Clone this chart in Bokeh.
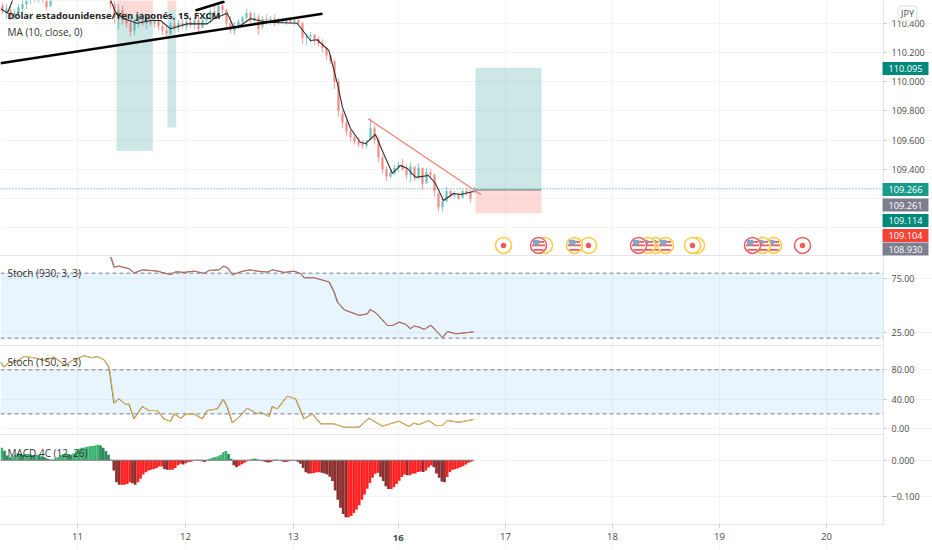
from bokeh.plotting import figure
from bokeh.layouts import column
from bokeh.models import Range1d, FixedTicker, Label, BoxAnnotation, NumeralTickFormatter
from bokeh.embed import file_html
from bokeh.resources import INLINE

FONT = "Open Sans"
TICKS = [231, 555, 878, 1193, 1515, 1836, 2157, 2478]
TICK_LABELS = ["11", "12", "13", "16", "17", "18", "19", "20"]
X_SCALE_START = 2649
X_END = 2796

high = [110.54,110.53,110.52,110.50,110.53,110.56,110.60,110.61,110.62,110.61,110.62,110.57,110.59,110.62,110.63,110.64,110.63,110.64,110.65,110.66,110.65,110.66,110.67,110.66,110.65,110.64,110.63,110.60,110.57,110.53,110.52,110.47,110.43,110.43,110.45,110.47,110.45,110.46,110.44,110.45,110.40,110.39,110.41,110.42,110.42,110.43,110.43,110.44,110.44,110.45,110.44,110.46,110.50,110.52,110.54,110.55,110.50,110.45,110.41,110.43,110.45,110.50,110.48,110.47,110.46,110.45,110.46,110.45,110.46,110.44,110.44,110.44,110.43,110.43,110.43,110.41,110.33,110.34,110.33,110.31,110.29,110.24,110.19,110.15,110.02,109.80,109.74,109.67,109.64,109.62,109.60,109.60,109.75,109.70,109.62,109.50,109.42,109.40,109.43,109.45,109.47,109.43,109.45,109.41,109.44,109.41,109.41,109.40,109.37,109.24,109.20,109.28,109.26,109.25,109.24,109.26,109.27,109.26,109.28]
low = [110.46,110.43,110.42,110.42,110.45,110.47,110.50,110.53,110.55,110.54,110.54,110.49,110.51,110.56,110.57,110.57,110.58,110.57,110.58,110.59,110.58,110.58,110.59,110.58,110.57,110.57,110.56,110.50,110.40,110.36,110.39,110.37,110.31,110.32,110.37,110.38,110.36,110.38,110.37,110.35,110.32,110.30,110.32,110.35,110.34,110.36,110.35,110.37,110.36,110.34,110.37,110.39,110.40,110.43,110.44,110.46,110.37,110.33,110.32,110.36,110.38,110.41,110.40,110.40,110.32,110.36,110.39,110.39,110.38,110.39,110.40,110.39,110.40,110.39,110.39,110.26,110.25,110.27,110.25,110.24,110.20,110.15,110.12,109.95,109.76,109.68,109.63,109.59,109.57,109.55,109.54,109.54,109.60,109.57,109.45,109.37,109.32,109.34,109.36,109.38,109.39,109.33,109.31,109.32,109.33,109.26,109.31,109.34,109.21,109.11,109.11,109.17,109.20,109.20,109.19,109.21,109.22,109.17,109.24]
open_ = [110.52,110.47,110.49,110.45,110.47,110.50,110.53,110.57,110.59,110.57,110.59,110.56,110.52,110.57,110.60,110.58,110.61,110.59,110.62,110.60,110.63,110.60,110.63,110.61,110.64,110.60,110.62,110.59,110.53,110.44,110.49,110.42,110.40,110.35,110.41,110.43,110.40,110.42,110.40,110.42,110.38,110.35,110.33,110.39,110.37,110.40,110.38,110.41,110.39,110.42,110.37,110.42,110.44,110.48,110.46,110.52,110.49,110.40,110.35,110.38,110.41,110.44,110.47,110.42,110.44,110.38,110.43,110.41,110.43,110.40,110.42,110.41,110.43,110.41,110.42,110.40,110.30,110.31,110.32,110.29,110.26,110.23,110.18,110.14,110.00,109.78,109.72,109.66,109.62,109.59,109.57,109.56,109.60,109.68,109.60,109.48,109.40,109.35,109.38,109.41,109.43,109.40,109.36,109.42,109.35,109.41,109.30,109.38,109.36,109.23,109.14,109.18,109.25,109.22,109.23,109.20,109.25,109.24,109.24]
close = [110.48,110.50,110.45,110.47,110.51,110.53,110.57,110.59,110.57,110.59,110.56,110.51,110.56,110.60,110.58,110.61,110.59,110.62,110.60,110.63,110.60,110.63,110.61,110.64,110.60,110.62,110.59,110.53,110.44,110.49,110.42,110.40,110.34,110.41,110.43,110.40,110.42,110.40,110.42,110.38,110.35,110.33,110.39,110.37,110.40,110.38,110.41,110.39,110.42,110.36,110.42,110.44,110.48,110.46,110.52,110.49,110.40,110.35,110.38,110.41,110.44,110.47,110.42,110.44,110.36,110.43,110.41,110.43,110.40,110.42,110.41,110.43,110.41,110.42,110.40,110.30,110.31,110.32,110.29,110.26,110.23,110.18,110.14,110.00,109.80,109.72,109.66,109.62,109.59,109.57,109.56,109.58,109.68,109.60,109.48,109.40,109.35,109.38,109.41,109.43,109.40,109.36,109.42,109.35,109.41,109.30,109.38,109.36,109.25,109.14,109.18,109.25,109.22,109.23,109.20,109.25,109.24,109.20,109.266]

ma_t = [0,21,40,100,200,300,330,345,370,410,450,480,510,560,620,640,680,700,715,750,800,890,930,950,985,1012,1026,1050,1080,1095,1125,1149,1176,1200,1221,1245,1284,1305,1329,1359,1380,1419]
ma_v = [110.50,110.47,110.58,110.61,110.62,110.60,110.56,110.476,110.431,110.40,110.419,110.419,110.362,110.396,110.396,110.431,110.469,110.373,110.378,110.431,110.407,110.40,110.282,110.287,110.214,109.974,109.823,109.679,109.583,109.576,109.638,109.508,109.371,109.426,109.405,109.344,109.357,109.302,109.186,109.234,109.227,109.248]

trend_black_t = [[0, 966], [585, 672]]
trend_black_v = [[110.126, 110.465], [110.488, 110.549]]
trend_red_t = [1103, 1442]
trend_red_v = [109.746, 109.225]

pos_left = [348, 501, 1425]
pos_right = [457, 527, 1623]
pos_target = [109.524, 109.686, 110.095]
pos_entry = [110.46, 110.494, 109.258]
pos_stop = [110.7, 110.7, 109.099]

event_t = [1509, 1632, 1614, 1764, 1722, 1965, 1941, 1914, 1995, 2088, 2076, 2319, 2286, 2256, 2406]
event_color = ["#ffc93c", "#ffc93c", "#f05a5a", "#ffc93c", "#ffc93c", "#ffc93c", "#ffc93c", "#f05a5a", "#ffc93c", "#ffc93c", "#ffc93c", "#ffc93c", "#ffc93c", "#f05a5a", "#f05a5a"]
event_flag = [False, False, True, False, True, True, True, True, True, False, False, True, True, True, False]
event_price = 108.878

stoch1_t = [330,340,355,385,400,425,470,490,510,525,550,580,610,625,655,668,680,695,720,745,770,800,815,850,880,900,910,940,985,1000,1010,1030,1075,1100,1108,1125,1160,1175,1195,1215,1228,1240,1255,1270,1290,1305,1325,1340,1365,1395,1418]
stoch1_v = [94.8,85.6,86.5,84.1,80.1,83.1,81.9,80.1,78.8,81.3,80.7,81.9,79.8,82.5,83.1,86.5,85,78.5,81.3,83.1,81.9,81,83.1,80.7,81.9,79.5,75.8,75.8,71.8,62.5,53.3,46.2,41,42.5,46.5,43.4,31.7,31.7,34.8,32.7,28.7,31.1,30.2,28,32,27.1,20.4,26.2,24,25,25.9]

stoch2_t = [0,10,25,45,70,100,130,160,195,215,250,275,290,310,325,332,340,355,375,385,400,425,445,470,490,510,520,540,555,580,605,620,650,668,680,695,715,740,770,780,805,815,830,860,885,910,935,960,1000,1030,1075,1105,1145,1195,1225,1240,1255,1285,1305,1325,1340,1375,1418]
stoch2_v = [90.5,83.7,90.5,90.5,98.2,96.4,92.8,97.3,85.9,92.8,99.1,96.4,98.2,93.7,83.7,60.9,34.6,40.5,32.7,33.6,13.2,30,24.5,24.5,13.2,10,20,14.1,19.1,20,13.2,24.5,26.8,40,29.1,7.7,15.5,27.7,20,22.3,16.4,30,26.8,44.1,40.5,13.2,20,6.4,6.4,1.8,1.8,14.1,3.2,10,2.7,7.3,5.4,10.9,4.1,4.1,10.9,8.6,12.3]

macd = [.034,.026,.013,.008,.010,.015,.019,.017,.015,.017,.017,.015,.014,.015,.014,.010,.008,.005,.002,.001,.005,.008,.014,.017,.019,.017,.015,.019,.026,.031,.034,.035,.037,.038,.039,.040,.042,.040,.034,.025,.015,.001,
-.028,-.060,-.067,-.067,-.067,-.065,-.060,-.063,-.067,-.060,-.051,-.039,-.033,-.028,-.026,-.024,-.021,-.017,-.017,-.024,-.026,-.026,-.026,-.021,-.014,-.010,-.012,-.008,-.005,-.004,-.001,.001,.001,-.003,-.005,.001,
.004,.007,.009,.011,.014,.022,.025,.017,.004,-.014,-.019,-.015,-.011,-.007,-.003,.001,.004,.005,.002,-.001,-.003,-.005,-.006,-.005,.001,.002,0,-.003,-.005,-.004,-.002,-.001,-.001,-.004,-.010,
-.021,-.033,-.036,-.036,-.035,-.033,-.033,-.034,-.036,-.039,-.045,-.057,-.083,-.108,-.130,-.147,-.156,-.156,-.152,-.144,-.135,-.123,-.108,-.094,-.078,-.062,-.048,-.037,-.034,-.045,-.057,-.071,-.079,-.079,-.074,-.065,-.056,-.046,-.039,-.041,-.041,-.037,-.036,-.032,-.031,-.032,-.028,-.020,-.014,-.019,-.036,-.048,-.058,-.060,-.046,-.032,-.026,-.025,-.022,-.019,-.016,-.012,-.007,-.004,-.001]

price_ticks = [110.4, 110.2, 110.0, 109.8, 109.6, 109.4, 109.2, 109.0]
price_tick_hidden = {109.2: "", 109.0: ""}
tag_text = ["110.095", "109.266", "109.261", "109.114", "109.104", "108.930"]
tag_color = ["#00897b", "#1a9a8a", "#7d7f8f", "#00897b", "#f44336", "#7d7f8f"]
tag_center = [68, 189, 204.5, 220, 235, 248.5]

GRID = "#f3f3f3"
AXIS = "#e2e4ea"
TEXT = "#4a4a4a"


def pane(height, lo, hi, ticks, fmt, base=None, bottom_axis=False):
    base = lo if base is None else base
    p = figure(width=932, height=height, x_range=Range1d(0, X_END), y_range=Range1d(lo, hi),
               y_axis_location="right", x_axis_location="below", output_backend="svg", toolbar_location=None,
               min_border=0, outline_line_color=None, background_fill_color="white", border_fill_color="white")
    p.xaxis.ticker = FixedTicker(ticks=TICKS)
    p.xgrid.ticker = FixedTicker(ticks=TICKS)
    p.xgrid.bounds = (base, hi)
    p.ygrid.ticker = FixedTicker(ticks=ticks)
    p.ygrid.bounds = (0, X_SCALE_START)
    p.yaxis.ticker = FixedTicker(ticks=ticks)
    p.xgrid.grid_line_color = GRID
    p.ygrid.grid_line_color = GRID
    p.yaxis.fixed_location = X_SCALE_START
    p.yaxis.bounds = (base, hi)
    p.yaxis.formatter = NumeralTickFormatter(format=fmt)
    p.yaxis.axis_line_color = AXIS
    p.yaxis.major_tick_line_color = "#c8cad0"
    p.yaxis.major_tick_in = 0
    p.yaxis.major_tick_out = 3
    p.yaxis.minor_tick_line_color = None
    p.yaxis.major_label_text_font = FONT
    p.yaxis.major_label_text_font_size = "9px"
    p.yaxis.major_label_text_color = TEXT
    p.yaxis.major_label_standoff = 5
    if bottom_axis:
        p.xaxis.fixed_location = base
        p.xaxis.bounds = (0, X_SCALE_START)
        p.xaxis.axis_line_color = AXIS
        p.xaxis.major_tick_line_color = "#c8cad0"
        p.xaxis.major_tick_in = 0
        p.xaxis.major_tick_out = 3
        p.xaxis.minor_tick_line_color = None
        p.xaxis.major_label_text_font = FONT
        p.xaxis.major_label_text_font_size = "9.5px"
        p.xaxis.major_label_text_color = TEXT
        p.xaxis.major_label_standoff = 5
    else:
        p.xaxis.visible = False
        p.line([0, X_SCALE_START], [base, base], line_color=AXIS, line_width=3)
    return p


def title(p, text, sx, sy, bold=False, color="#333333", size="10px"):
    p.add_layout(Label(x=sx, y=sy, x_units="screen", y_units="screen", text=text,
                       text_font=FONT, text_font_size=size, text_color=color,
                       text_font_style="bold" if bold else "normal", text_baseline="middle"))


def band(p):
    p.add_layout(BoxAnnotation(left=0, right=X_SCALE_START, bottom=20, top=80, fill_color="#2196f3",
                               fill_alpha=0.1, line_alpha=0, level="underlay"))
    for lv in (80, 20):
        p.line([0, X_SCALE_START], [lv, lv], line_color="#787b86", line_width=1, line_dash="4 3")


# ---- price pane
H1 = 256
p1 = pane(H1, 108.802, 110.556, price_ticks, "0.000")
p1.yaxis.major_label_overrides = price_tick_hidden
for i in range(len(pos_left)):
    p1.quad(left=pos_left[i], right=pos_right[i], bottom=min(pos_target[i], pos_entry[i]),
            top=max(pos_target[i], pos_entry[i]), fill_color="#00897b", fill_alpha=0.2, line_color=None)
    p1.quad(left=pos_left[i], right=pos_right[i], bottom=min(pos_stop[i], pos_entry[i]),
            top=max(pos_stop[i], pos_entry[i]), fill_color="#f44336", fill_alpha=0.2, line_color=None)
p1.line([pos_left[2], pos_right[2]], [pos_entry[2], pos_entry[2]], line_color="#9a9a9a", line_width=1.5)
p1.line([0, X_SCALE_START], [109.266, 109.266], line_color="#26a69a", line_width=1, line_dash="1 2")

candle_t = [6 + 12 * i for i in range(len(close))]
colors = ["#26a69a" if c >= o else "#ef5350" for o, c in zip(open_, close)]
p1.segment(candle_t, low, candle_t, high, line_color=colors, line_alpha=0.5, line_width=1.2)
p1.vbar(x=candle_t, top=[max(o, c) for o, c in zip(open_, close)], bottom=[min(o, c) for o, c in zip(open_, close)],
        width=9, fill_color=colors, fill_alpha=0.38, line_color=None)
p1.line(ma_t, ma_v, line_color="#2a2a2a", line_width=1.05)
p1.multi_line(trend_black_t, trend_black_v, line_color="black", line_width=2.6)
p1.line(trend_red_t, trend_red_v, line_color="#f77c72", line_width=1.2)

PX_T, PX_P = 3.0, 0.00685
for t, col, flag in zip(event_t, event_color, event_flag):
    p1.scatter([t], [event_price], size=16, marker="circle", fill_color="white", line_color=col, line_width=1.5)
    if flag:
        p1.rect([t], [event_price - 4.5 * PX_P], width=10, height=1.8, width_units="screen", height_units="screen",
                fill_color="#f05a5a", line_color=None)
        p1.rect([t], [event_price], width=13, height=1.8, width_units="screen", height_units="screen",
                fill_color="#f05a5a", line_color=None)
        p1.rect([t + 3 * PX_T], [event_price + 3.5 * PX_P], width=5, height=1.8, width_units="screen", height_units="screen",
                fill_color="#f05a5a", line_color=None)
        p1.rect([t - 2.5 * PX_T], [event_price + 3 * PX_P], width=6.5, height=5.5, width_units="screen", height_units="screen",
                fill_color="#7fa8c9", line_color=None)
    else:
        p1.scatter([t], [event_price], size=5.5, marker="circle", fill_color="#f05a5a", line_color=None)

title(p1, "Dólar estadounidense/Yen japonés, 15, FXCM", 7, H1 - 15, bold=True, color="#222222", size="9.5px")
title(p1, "MA (10, close, 0)", 7, H1 - 31)
for txt, col, cy in zip(tag_text, tag_color, tag_center):
    p1.add_layout(Label(x=905, y=H1 - cy, x_units="screen", y_units="screen", text=txt,
                        text_font=FONT, text_font_size="9.2px", text_color="white",
                        text_align="center", text_baseline="middle",
                        background_fill_color=col, padding=(6, 3)))
p1.add_layout(Label(x=907, y=H1 - 13, x_units="screen", y_units="screen", text="JPY",
                    text_font=FONT, text_font_size="9px", text_color=TEXT,
                    text_align="center", text_baseline="middle", background_fill_color="white",
                    border_line_color="#dddddd", border_radius=3, padding=(3, 1)))

# ---- stochastic 930
H2 = 90
p2 = pane(H2, 12.3, 95.4, [75, 25], "0.00")
band(p2)
p2.line(stoch1_t, stoch1_v, line_color="#26a69a", line_width=1)
p2.line([t + 2 for t in stoch1_t], stoch1_v, line_color="#e2574c", line_width=1)
title(p2, "Stoch (930, 3, 3)", 7, H2 - 16)

# ---- stochastic 150
H3 = 89
p3 = pane(H3, -9.5, 111.8, [80, 40, 0], "0.00")
band(p3)
p3.line(stoch2_t, stoch2_v, line_color="#5c6f9c", line_width=1)
p3.line([t + 2 for t in stoch2_t], stoch2_v, line_color="#f5b83d", line_width=1)
title(p3, "Stoch (150, 3, 3)", 7, H3 - 15)

# ---- MACD (frame runs on under the time scale)
H4 = 115
p4 = pane(H4, -0.2467, 0.0675, [0, -0.1], "0.000", base=-0.1757, bottom_axis=True)
p4.yaxis.major_label_overrides = {-0.1: "\u22120.100"}
macd_t = [4 + 8 * i for i in range(len(macd))]
macd_color = []
for i, v in enumerate(macd):
    rising = v >= macd[i - 1] if i else True
    if v >= 0:
        macd_color.append("#3cb371" if rising else "#2f8a5f")
    else:
        macd_color.append("#ff2222" if rising else "#8c2f2f")
p4.vbar(x=macd_t, top=macd, bottom=0, width=8.2, fill_color=macd_color, line_color=None)
p4.line([0, 1420], [0, 0], line_color="#787b86", line_width=1)
title(p4, "MACD 4C (12, 26)", 7, H4 - 17)
over = dict(zip(TICKS, TICK_LABELS))
over[1193] = ""
p4.xaxis.major_label_overrides = over
p4.add_layout(Label(x=1193, y=13, x_units="data", y_units="screen", text="16", text_font=FONT,
                    text_font_size="9.5px", text_font_style="bold", text_color=TEXT,
                    text_align="center", text_baseline="middle"))

page = column(p1, p2, p3, p4, spacing=0)
open("out.html", "w").write(file_html(page, INLINE))
